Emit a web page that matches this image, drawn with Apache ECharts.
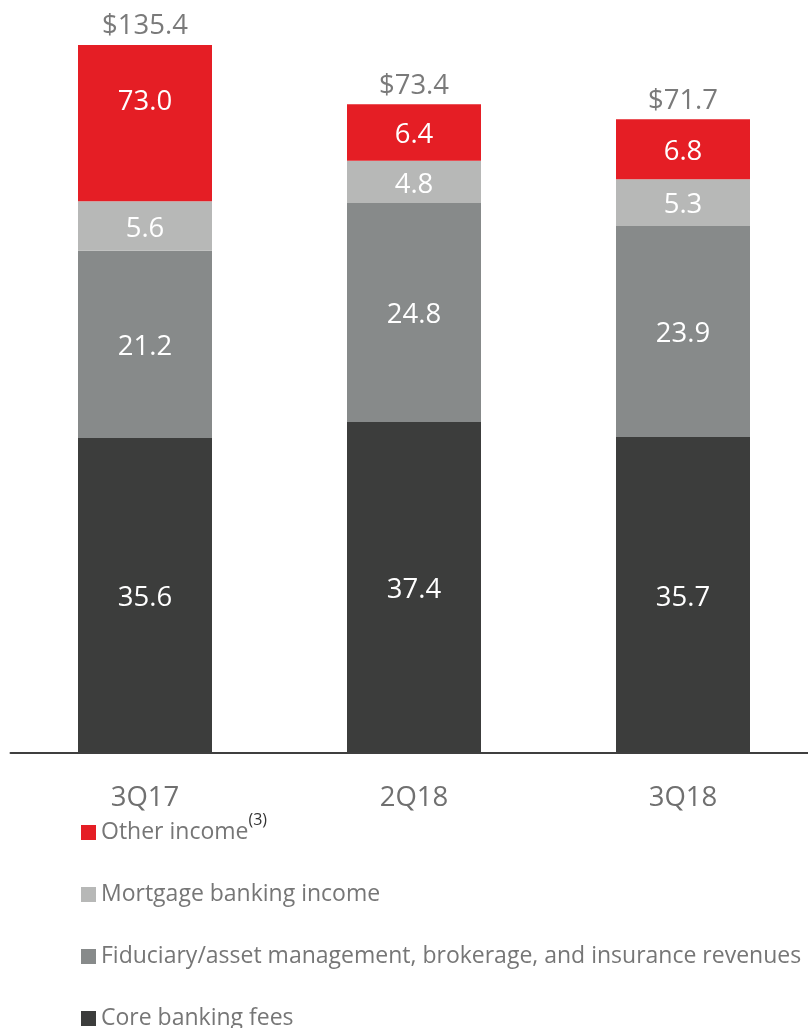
<!DOCTYPE html>
<html>
<head>
<meta charset="utf-8">
<script src="https://cdn.jsdelivr.net/npm/echarts@6/dist/echarts.min.js"></script>
<style>
  html, body { margin: 0; padding: 0; background: #ffffff; overflow: hidden; }
  /* canvas runs a little past the page edges so the axis and legend are not squeezed */
  #chart { width: 820px; height: 1045px; }
</style>
</head>
<body>
<div id="chart"></div>
<script>
// Noninterest income by quarter ($ millions), stacked by source
const categories = ['3Q17', '2Q18', '3Q18'];
const coreBankingFees = [35.6, 37.4, 35.7];
const fiduciaryRevenues = [21.2, 24.8, 23.9];
const mortgageBankingIncome = [5.6, 4.8, 5.3];
const otherIncome = [73.0, 6.4, 6.8];

const seriesNames = [
  'Core banking fees',
  'Fiduciary/asset management, brokerage, and insurance revenues',
  'Mortgage banking income',
  'Other income'
];
const legendOrder = [seriesNames[3], seriesNames[2], seriesNames[1], seriesNames[0]];

const FONT = '"Open Sans", sans-serif';
const colors = ['#3c3d3c', '#878a8a', '#b7b8b7', '#e51e25'];
const stackValues = [coreBankingFees, fiduciaryRevenues, mortgageBankingIncome, otherIncome];

// Quarter totals shown above each column
const totals = categories.map((_, i) =>
  Math.round(stackValues.reduce((s, arr) => s + arr[i], 0) * 10) / 10
);

const chart = echarts.init(document.getElementById('chart'), null, { renderer: 'canvas' });

const barSeries = stackValues.map((vals, k) => ({
  name: seriesNames[k],
  type: 'bar',
  stack: 'income',
  barWidth: 134,
  itemStyle: { color: colors[k] },
  label: {
    show: true,
    position: 'inside',
    offset: [0, 3],
    color: '#ffffff',
    fontFamily: FONT,
    fontSize: 27.5,
    formatter: p => Number(p.value).toFixed(1)
  },
  data: vals.map((v, i) => {
    // the oversized 3Q17 other-income label sits toward the top of its block
    if (k === 3 && v > 50) return { value: v, label: { offset: [0, -21] } };
    return v;
  })
}));

const option = {
  animation: false,
  backgroundColor: '#ffffff',
  grid: { left: 10.5, width: 807, top: 4.4, height: 747.9, containLabel: false },
  xAxis: {
    type: 'category',
    data: categories,
    axisLine: { show: true, lineStyle: { color: '#3f3f3f', width: 2 } },
    axisTick: { show: false },
    axisLabel: { color: '#707070', fontFamily: FONT, fontSize: 27.5, margin: 32 }
  },
  yAxis: {
    type: 'value',
    min: 0,
    max: 140,
    // compress the span above the 2Q18/3Q18 columns so the 3Q17 block fits
    breaks: [{ start: 75, end: 130.3, gap: 0 }],
    breakArea: { show: false, itemStyle: { opacity: 0, borderWidth: 0 } },
    axisLine: { show: false },
    axisTick: { show: false },
    axisLabel: { show: false },
    splitLine: { show: false }
  },
  legend: {
    data: legendOrder,
    orient: 'vertical',
    left: 81,
    top: 812.5,
    padding: 0,
    itemWidth: 15,
    itemHeight: 15,
    itemGap: 22,
    itemTextGap: 9,
    icon: 'rect',
    selectedMode: false,
    textStyle: {
      color: '#767676',
      fontFamily: FONT,
      fontSize: 23,
      lineHeight: 40,
      rich: {
        main: { color: '#767676', fontFamily: FONT, fontSize: 23, lineHeight: 40 },
        sup: { color: '#333333', fontFamily: FONT, fontSize: 16, lineHeight: 16, verticalAlign: 'top' }
      }
    },
    formatter: name => name === seriesNames[3] ? '{main|' + name + '}{sup|(3)}' : name
  },
  series: barSeries.concat([{
    name: 'Total',
    type: 'scatter',
    symbolSize: 1,
    itemStyle: { color: 'rgba(0,0,0,0)' },
    silent: true,
    label: {
      show: true,
      position: 'top',
      distance: 4,
      color: '#595959',
      fontFamily: FONT,
      fontSize: 27.5,
      formatter: p => '$' + Number(p.value).toFixed(1)
    },
    data: totals
  }])
};

chart.setOption(option);
</script>
</body>
</html>
